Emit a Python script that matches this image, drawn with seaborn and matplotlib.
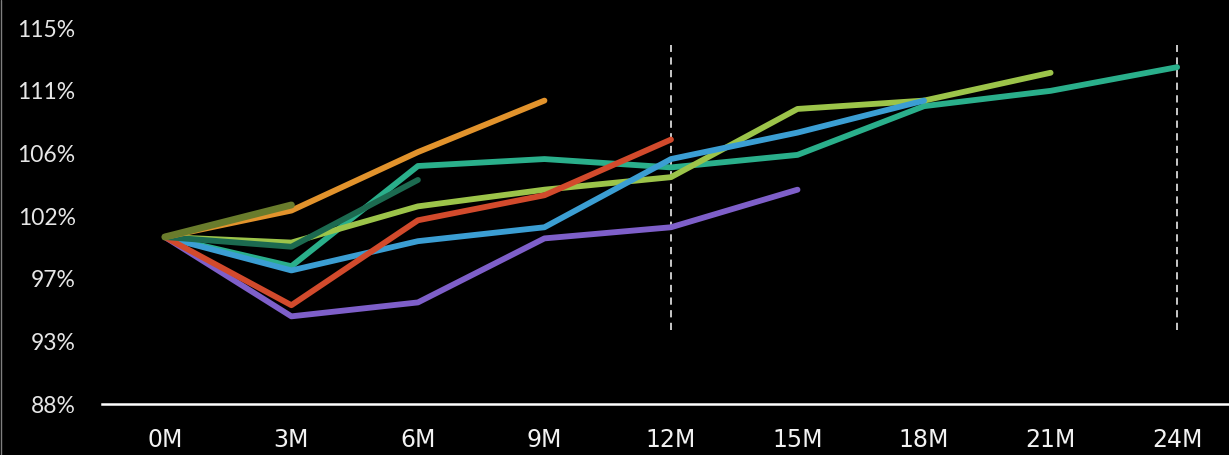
import numpy as np
import pandas as pd
import matplotlib
matplotlib.use("Agg")
import matplotlib.pyplot as plt
import seaborn as sns

# Months since start
months = [0, 3, 6, 9, 12, 15, 18, 21, 24]
month_labels = ["0M", "3M", "6M", "9M", "12M", "15M", "18M", "21M", "24M"]

# Indexed value (%) per cohort, None = not yet observed
purple = [100.0, 94.3, 95.3, 99.9, 100.7, 103.4, None, None, None]
teal = [100.0, 97.9, 105.1, 105.6, 105.0, 105.9, 109.4, 110.5, 112.2]
light_green = [100.0, 99.6, 102.2, 103.4, 104.3, 109.2, 109.8, 111.8, None]
blue = [100.0, 97.6, 99.7, 100.7, 105.6, 107.5, 109.8, None, None]
red = [100.0, 95.1, 101.2, 103.0, 107.0, None, None, None, None]
dark_teal = [100.0, 99.3, 104.1, None, None, None, None, None, None]
orange = [100.0, 101.9, 106.1, 109.8, None, None, None, None, None]
olive = [100.0, 102.3, None, None, None, None, None, None, None]

y_ticks = [88, 92.5, 97, 101.5, 106, 110.5, 115]
y_tick_labels = ["88%", "93%", "97%", "102%", "106%", "111%", "115%"]

series = {
    "purple": purple,
    "teal": teal,
    "light green": light_green,
    "blue": blue,
    "red": red,
    "dark teal": dark_teal,
    "orange": orange,
    "olive": olive,
}
colors = {
    "purple": "#7E5FC9",
    "teal": "#2AAF8B",
    "light green": "#9CC44A",
    "blue": "#3B9ED3",
    "red": "#D24A2C",
    "dark teal": "#1C6A50",
    "orange": "#E2932C",
    "olive": "#697C2C",
}

rows = []
for name, vals in series.items():
    for m, v in zip(months, vals):
        if v is not None:
            rows.append({"month": m, "value": v, "cohort": name})
df = pd.DataFrame(rows)

sns.set_style("dark")
plt.rcParams["font.family"] = ["Lato", "DejaVu Sans"]

fig = plt.figure(figsize=(12.29, 4.55), dpi=100, facecolor="black")
ax = fig.add_axes([0.083, 0.112, 0.917, 0.826])
ax.set_facecolor("black")

for i, (name, vals) in enumerate(series.items()):
    sub = df[df["cohort"] == name]
    sns.lineplot(
        data=sub, x="month", y="value", color=colors[name], ax=ax,
        linewidth=5.0 if name == "olive" else 4.2,
        solid_capstyle="round", solid_joinstyle="round",
        zorder=3 + i, legend=False,
    )

# dashed markers at 12M and 24M
ax.vlines([12, 24], 93.3, 113.8, colors="#d9d9d9", linestyles=(0, (4, 3)),
          linewidth=1.3, zorder=2)

ax.set_xlim(-1.49, 25.23)
ax.set_ylim(88, 115)
ax.set_xticks(months)
ax.set_xticklabels(month_labels, color="#f2f2f2", fontsize=17,
                   family=["Liberation Sans Narrow", "DejaVu Sans"])
ax.set_yticks(y_ticks)
ax.set_yticklabels(y_tick_labels, color="#e6e6e6", fontsize=16.5)
ax.tick_params(axis="x", length=0, pad=17)
ax.tick_params(axis="y", length=0, pad=19)
ax.set_xlabel("")
ax.set_ylabel("")
ax.grid(False)

for s in ["top", "right", "left"]:
    ax.spines[s].set_visible(False)
ax.spines["bottom"].set_color("white")
ax.spines["bottom"].set_linewidth(1.8)

# thin border at the left edge of the image
fig.add_artist(plt.Line2D([0.0008, 0.0008], [0, 1], color="#7f7f7f",
                          linewidth=1.0, transform=fig.transFigure))

plt.savefig("out.png", dpi=100, facecolor="black")
